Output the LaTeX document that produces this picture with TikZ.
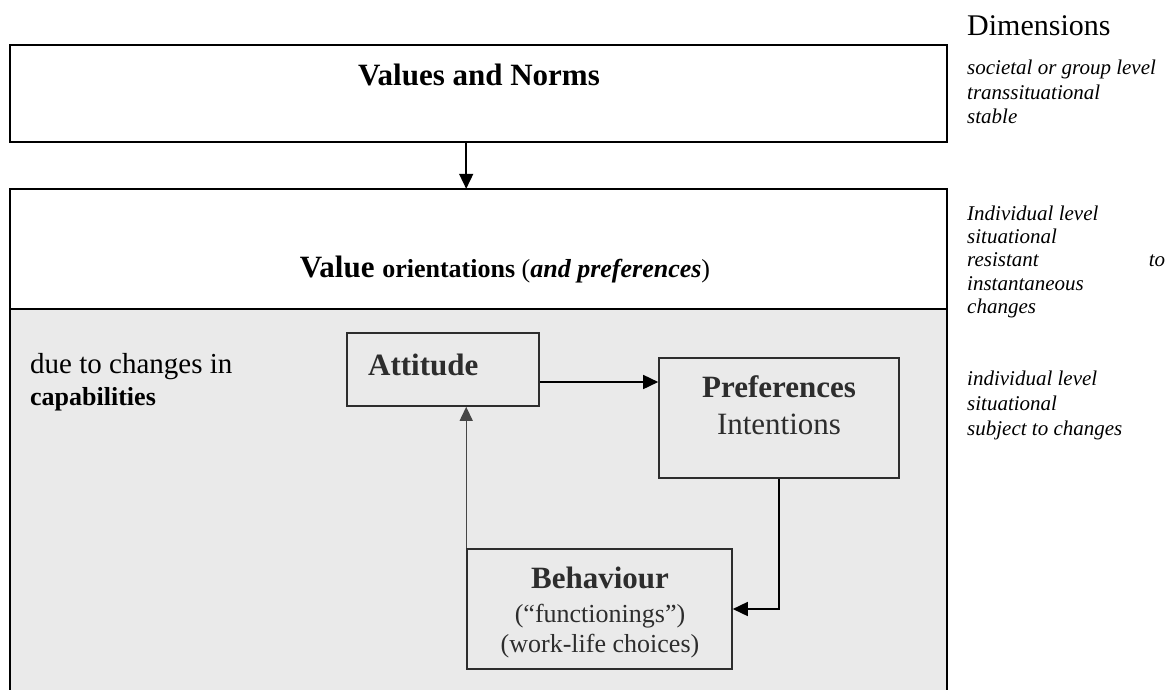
\documentclass[tikz,border=0pt]{standalone}
\usepackage{fontspec}
\setmainfont{Liberation Serif}
\usetikzlibrary{arrows.meta}
\definecolor{bgshade}{RGB}{234,234,234}
\definecolor{ink}{RGB}{45,45,45}
\definecolor{arrowgray}{RGB}{70,70,70}
\begin{document}
\begin{tikzpicture}[x=1pt,y=-1pt,
  outerline/.style={line width=2pt, draw=black},
  outerbox/.style={rectangle, draw=black, line width=2pt, inner sep=0pt},
  innerbox/.style={rectangle, draw=ink, line width=1.6pt, fill=bgshade, inner sep=0pt},
  frame/.style={rectangle, inner sep=0pt},
  txt/.style={inner sep=0pt, anchor=base},
  ltxt/.style={inner sep=0pt, anchor=base west},
  dimtxt/.style={inner sep=0pt, anchor=base west, font=\fontsize{21}{25}\selectfont\itshape},
  arr/.style={-{Triangle[length=15pt,width=14pt]}, line width=1.6pt, draw=black},
  garr/.style={-{Triangle[length=14pt,width=13pt]}, line width=1.3pt, draw=arrowgray, fill=arrowgray}
]
\useasboundingbox (0,0) rectangle (1176,689);
\clip (0,0) rectangle (1176,689);

% outer frame of the lower block (extends past the bottom edge)
\node[frame, minimum width=937pt, minimum height=531pt] (vo) at (478.5,454.5) {};
\coordinate (sep) at (10,309);
\fill[bgshade] (sep) rectangle (vo.south east);
\draw[outerline] (vo.south west) -- (vo.north west) -- (vo.north east) -- (vo.south east);
\draw[outerline] (sep) -- (sep -| vo.east);

% top box
\node[outerbox, minimum width=937pt, minimum height=97pt] (vn) at (478.5,93.5) {};
\node[txt] (vnt) at (479,85) {\fontsize{31}{36}\selectfont\bfseries Values and Norms};

\node[txt] (vot) at (505,277) {\fontsize{31}{36}\selectfont\bfseries Value \fontsize{26}{30}\selectfont orientations {\mdseries(}\textit{and preferences}{\mdseries)}};

% inner boxes
\node[innerbox, minimum width=192pt, minimum height=73pt] (att) at (443,369.5) {};
\node[innerbox, minimum width=240pt, minimum height=120pt] (pref) at (779,418) {};
\node[innerbox, minimum width=265pt, minimum height=120pt] (beh) at (599.5,609) {};

\node[ltxt, text=ink] (attt) at (368,375) {\fontsize{31}{36}\selectfont\bfseries Attitude};
\node[txt, text=ink] (preft) at (779,397) {\fontsize{31}{36}\selectfont\bfseries Preferences};
\node[txt, text=ink] (intt) at (779,434) {\fontsize{31}{36}\selectfont Intentions};
\node[txt, text=ink] (beht) at (600,588) {\fontsize{31}{36}\selectfont\bfseries Behaviour};
\node[txt, text=ink] (funct) at (600,622) {\fontsize{26}{30}\selectfont (“functionings”)};
\node[txt, text=ink] (workt) at (600,652) {\fontsize{26}{30}\selectfont (work-life choices)};

\node[ltxt] (due) at (30,373) {\fontsize{29}{34}\selectfont due to changes in};
\node[ltxt] (cap) at (30,405) {\fontsize{26}{30}\selectfont\bfseries capabilities};

% connectors
\draw[arr] (vn.south -| beh.west) -- (vo.north -| beh.west);
\draw[arr] ([yshift=-12.5pt]att.east) coordinate (a1) -- (a1 -| pref.west);
\draw[arr] (pref.south) |- (beh.east);
\draw[garr] (beh.north west) -- (att.south -| beh.north west);

% right column
\node[ltxt] (dim) at (967,35) {\fontsize{30}{35}\selectfont Dimensions};
\node[dimtxt] (d1) at (967,74) {societal or group level};
\node[dimtxt] (d2) at (967,99) {transsituational};
\node[dimtxt] (d3) at (967,123) {stable};
\node[dimtxt] (d4) at (967,220) {Individual level};
\node[dimtxt] (d5) at (967,243) {situational};
\node[dimtxt] (d6) at (967,266) {\makebox[198pt][l]{resistant\hfill to}};
\node[dimtxt] (d7) at (967,290) {instantaneous};
\node[dimtxt] (d8) at (967,313) {changes};
\node[dimtxt] (d9) at (967,385) {individual level};
\node[dimtxt] (d10) at (967,410) {situational};
\node[dimtxt] (d11) at (967,435) {subject to changes};
\end{tikzpicture}
\end{document}
